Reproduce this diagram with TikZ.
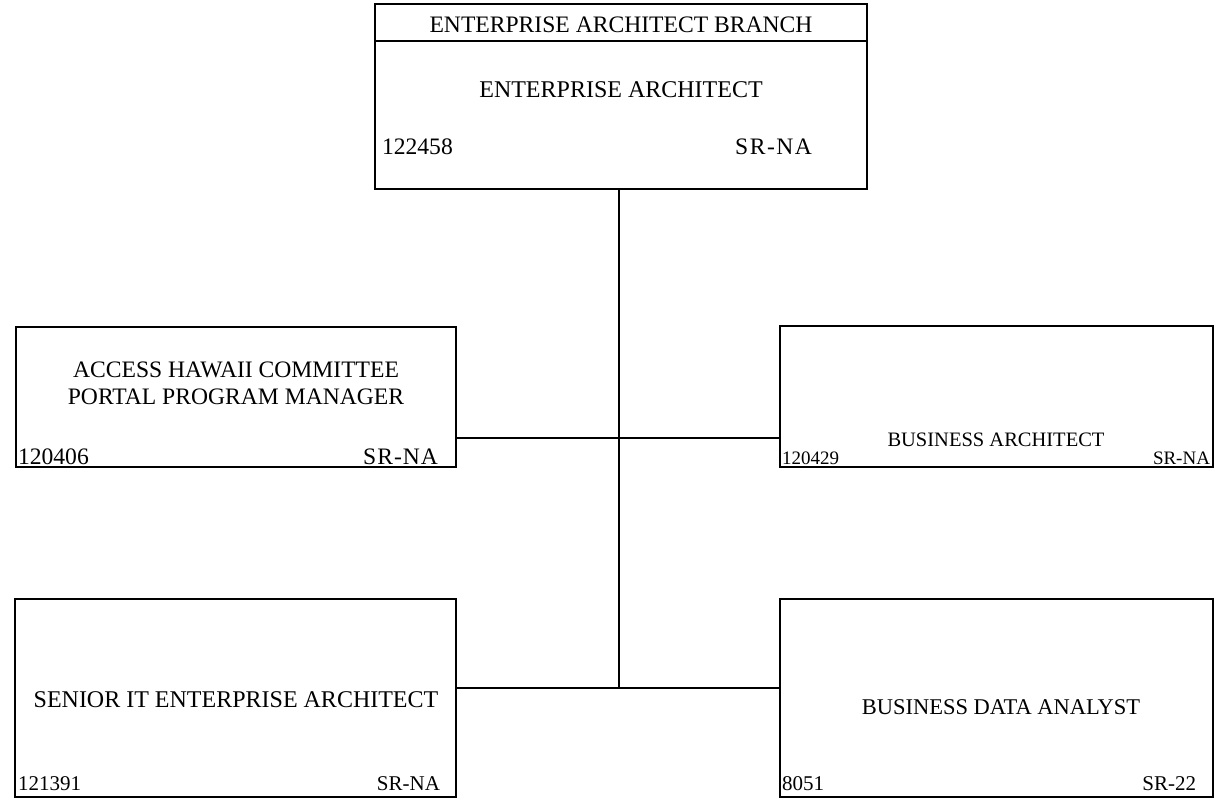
\documentclass[tikz,border=0pt]{standalone}
\usepackage{fontspec}
\setmainfont{Liberation Serif}
\begin{document}
\begin{tikzpicture}[x=1pt,y=-1pt,
  box/.style={draw, line width=1.3pt, anchor=north west, inner sep=0pt, outer sep=0pt},
  txt/.style={inner sep=0pt, outer sep=0pt, font=\fontsize{23.6}{27}\selectfont},
  small/.style={inner sep=0pt, outer sep=0pt, font=\fontsize{21}{25}\selectfont},
  wire/.style={line width=1.3pt}]
\useasboundingbox (0,0) rectangle (1223,809);
% boxes
\node[box, minimum width=492pt, minimum height=185pt] (ea) at (375,4) {};
\draw[wire] ([yshift=-37pt]ea.north west) -- ([yshift=-37pt]ea.north east);
\node[box, minimum width=440pt, minimum height=140pt] (ah) at (16,327) {};
\node[box, minimum width=433pt, minimum height=141pt] (ba) at (780,326) {};
\node[box, minimum width=441pt, minimum height=198pt] (si) at (15,599) {};
\node[box, minimum width=433pt, minimum height=198pt] (bd) at (780,599) {};
% texts
\node[txt, anchor=base] (eat) at (621,32) {ENTERPRISE ARCHITECT BRANCH};
\node[txt, font=\fontsize{24}{28}\selectfont, anchor=base] (ean) at (621,97) {ENTERPRISE ARCHITECT};
\node[txt, anchor=base west] (ean1) at (382,154) {122458};
\node[txt, anchor=base east] (ean2) at (812,154) {S\kern1.5pt R\kern1.5pt -\kern1.5pt N\kern1.5pt A};
\node[txt, anchor=base, align=center] (ahn) at (236,404) {ACCESS HAWAII COMMITTEE\\PORTAL PROGRAM MANAGER};
\node[txt, anchor=base west] (ah1) at (18,464) {120406};
\node[txt, anchor=base east] (ah2) at (438,464) {S\kern1pt R\kern1pt -\kern1pt N\kern1pt A};
\node[small, font=\fontsize{20.5}{24}\selectfont, anchor=base] (ban) at (996,446) {BUSINESS ARCHITECT};
\node[small, font=\fontsize{19}{22}\selectfont, anchor=base west] (ba1) at (782,464) {120429};
\node[small, font=\fontsize{19}{22}\selectfont, anchor=base east] (ba2) at (1210,464) {SR-NA};
\node[txt, font=\fontsize{24}{28}\selectfont, anchor=base] (sin) at (236,707) {SENIOR IT ENTERPRISE ARCHITECT};
\node[small, anchor=base west] (si1) at (18,790) {121391};
\node[small, anchor=base east] (si2) at (440,790) {SR-NA};
\node[small, font=\fontsize{22.5}{26}\selectfont, anchor=base] (bdn) at (1001,714) {BUSINESS DATA ANALYST};
\node[small, anchor=base west] (bd1) at (782,790) {8051};
\node[small, anchor=base east] (bd2) at (1196,790) {SR-22};
% connectors
\coordinate (j1) at (619,438);
\coordinate (j2) at (619,688);
\draw[wire] (ea.south -| j1) -- (j2);
\draw[wire] (ah.east |- j1) -- (ba.west |- j1);
\draw[wire] (si.east |- j2) -- (bd.west |- j2);
\end{tikzpicture}
\end{document}
